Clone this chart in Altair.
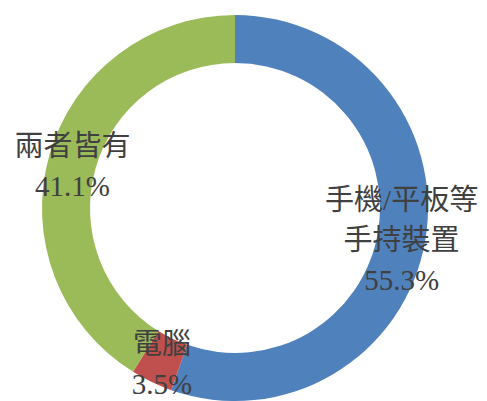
import altair as alt
import pandas as pd

categories = ["手機/平板等\n手持裝置", "電腦", "兩者皆有"]
values = [55.3, 3.5, 41.1]
colors = ["#4F81BD", "#C0504D", "#9BBB59"]
order = [0, 1, 2]

df = pd.DataFrame({
    "category": categories,
    "value": values,
    "order": order,
    "label": [f"{c}\n{v}%" for c, v in zip(categories, values)],
})

CX, CY = 227, 200
LH = 40

arcs = alt.Chart(df).mark_arc(innerRadius=145, outerRadius=193, stroke=None).encode(
    theta=alt.Theta("value:Q", stack=True),
    order=alt.Order("order:Q"),
    color=alt.Color("category:N", scale=alt.Scale(domain=categories, range=colors), legend=None),
    x=alt.value(CX),
    y=alt.value(CY),
)

text_base = alt.Chart(df).transform_window(
    v1="sum(value)", sort=[alt.SortField("order")], frame=[None, 0]
).transform_calculate(
    mid="datum.v1 - datum.value / 2",
    nlines="length(split(datum.label, '\\n'))",
)


def text_layer(n):
    return text_base.transform_filter(f"datum.nlines == {n}").mark_text(
        font="Liberation Serif, Noto Sans CJK TC",
        fontSize=29,
        color="#404040",
        lineBreak="\n",
        lineHeight=LH,
        align="center",
        baseline="middle",
        dy=-(n - 1) * LH / 2 + 5,
    ).encode(
        theta=alt.Theta("mid:Q"),
        text="label:N",
        radius=alt.value(169),
        x=alt.value(CX),
        y=alt.value(CY),
    )


chart = alt.layer(arcs, text_layer(2), text_layer(3)).properties(
    width=471, height=393, padding=0, autosize=alt.AutoSizeParams(type="none")
).configure_view(stroke=None)

chart.save("out.html", embed_options={"renderer": "svg", "actions": False})
